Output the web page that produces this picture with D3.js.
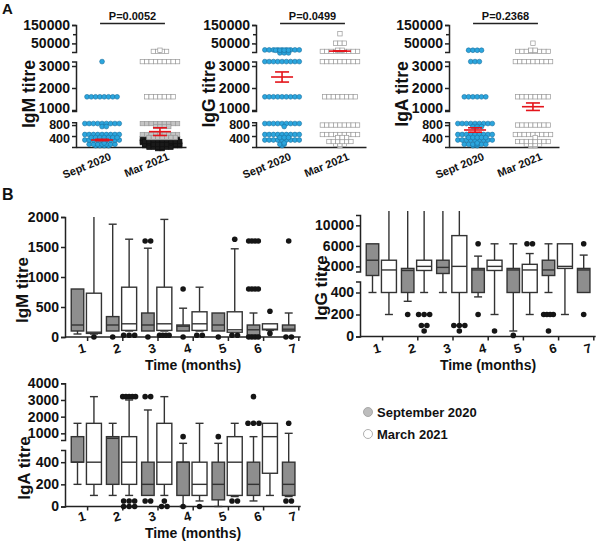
<!DOCTYPE html>
<html><head><meta charset="utf-8">
<script src="https://cdn.jsdelivr.net/npm/d3@7"></script>
<style>
body{margin:0;background:#fff}
text{font-family:"Liberation Sans",Arial,Helvetica,sans-serif;font-weight:bold;fill:#111}
</style></head><body>
<svg id="c" width="600" height="542"></svg>
<script>
// ---------- Panel A data (number of subjects at each titre) ----------
const titres = [50,100,200,400,800,1600,3200,6400,12800,25600,51200,102400];
const groupsA = ["Sept 2020","Mar 2021"];
const igmSept = [4,7,10,16,11,8,1,0,0,0,0,0];
const igmMar  = [20,24,22,16,13,7,9,4,1,0,0,0];
const iggSept = [1,2,10,12,10,9,9,12,4,0,0,0];
const iggMar  = [1,3,6,12,9,8,9,9,2,0,3,1];
const igaSept = [2,6,10,14,12,6,3,0,4,0,0,0];
const igaMar  = [2,4,8,10,8,8,9,8,2,0,1,0];
// mean, SEM
const igmStats = [[255,25],[560,140]];
const iggStats = [[2500,230],[8000,300]];
const igaStats = [[620,80],[1150,170]];
const pValues = ["P=0.0052","P=0.0499","P=0.2368"];
const tickLowA = [400,800];
const tickMidA = [1000,2000,3000];
const tickTopA = [50000,150000];
const minorTopA = [100000];

// ---------- Panel B data: [low whisker, Q1, median, Q3, high whisker] ----------
const months = [1,2,3,4,5,6,7];
const igmSeptBox = [[50,100,200,800,800],[100,100,200,340,1880],[100,100,200,400,1480],[100,100,180,200,480],[100,100,200,400,400],[20,30,120,200,400],[100,100,130,200,400]];
const igmMarBox  = [[50,60,80,730,2000],[100,110,220,830,1630],[100,110,220,830,1960],[100,110,220,420,830],[80,80,120,420,1470],[110,120,130,220,220]];
const igmSeptOut = [[2,0,1],[3,1600,2],[3,0,1],[4,800,1],[4,0,1],[5,0,1],[6,1600,4],[6,800,4],[6,0,4],[7,1600,1],[7,0,2]];
const igmMarOut  = [[1,0,1],[2,30,3],[3,30,4],[4,30,2],[5,1630,1],[5,30,2],[6,430,1],[6,60,1]];
const iggSeptBox = [[400,800,3200,6400,6400],[320,400,1200,1600,12800],[400,900,1800,3200,12800],[360,400,1300,1600,4000],[50,400,1300,1600,6400],[400,800,1300,3200,6400],[400,400,1300,1600,4200]];
const iggMarBox  = [[200,400,1300,3200,12800],[400,1200,2000,3200,12800],[100,400,2000,8000,12800],[200,1200,2000,3200,6400],[200,400,1300,2400,4500],[200,1600,2000,6400,6400]];
const iggSeptOut = [[2,200,1],[4,6400,1],[4,200,1],[5,10,1],[6,200,4],[6,50,1],[7,6400,1],[7,200,1]];
const iggMarOut  = [[2,200,3],[2,100,2],[2,50,1],[3,100,3],[3,50,1],[4,50,1],[5,6400,2]];
const igaSeptBox = [[200,400,400,800,1600],[100,200,700,800,1600],[100,100,200,400,2400],[0,100,400,400,570],[0,60,200,400,570],[50,100,200,400,800],[90,100,200,400,1000]];
const igaMarBox  = [[100,200,400,1600,3200],[100,200,400,800,3000],[100,200,400,1600,3200],[50,100,200,400,1600],[90,100,400,800,1600],[100,300,800,1600,1600]];
const igaSeptOut = [[3,3200,2],[3,50,2],[4,800,1],[4,0,1],[5,800,1],[6,1600,3],[6,3200,1],[7,1600,1],[7,50,2]];
const igaMarOut  = [[2,3200,5],[2,50,3],[2,0,3],[3,50,1],[3,0,2],[4,0,1],[5,50,2]];
const tickIgM = [0,500,1000,1500,2000];
const tickIgGLow = [0,200,400], tickIgGHigh = [2000,6000,10000];
const tickIgALow = [0,200,400], tickIgAHigh = [1000,2000,3000,4000];
const legendLabels = ["September 2020","March 2021"];

// ---------- drawing ----------
const svg = d3.select("#c");
const BLUE = "#2ba6de", BLUE_S = "#1a6f9e", RED = "#e4141b", GREY = "#8e8e8e", DARK = "#222";
const fmt = d3.format("d");

function styleAxis(g, fs) {
  g.selectAll("path.domain").attr("stroke", DARK).attr("stroke-width", 1.5);
  g.selectAll(".tick line").attr("stroke", DARK).attr("stroke-width", 1.5);
  g.selectAll(".tick text").attr("font-size", fs).attr("fill", "#111");
}

svg.append("text").text("A").attr("x", 2).attr("y", 14).attr("font-size", 15);
svg.append("text").text("B").attr("x", 2).attr("y", 200).attr("font-size", 16);

// Panel A
const yA = d3.scaleLinear().domain([0,900,950,3200,3250,150000]).range([147,122.3,111.1,61.6,52,25]);
const segA = [[0,900],[950,3200],[3250,150000]];
const segTicksA = [tickLowA, tickMidA, tickTopA];
const panelsA = [
  {title:"IgM titre", ax:76, counts:[igmSept, igmMar], stats:igmStats, p:pValues[0]},
  {title:"IgG titre", ax:256, counts:[iggSept, iggMar], stats:iggStats, p:pValues[1]},
  {title:"IgA titre", ax:449, counts:[igaSept, igaMar], stats:igaStats, p:pValues[2]}
];

function swarm(counts, cx, sp, maxPer) {
  const pts = [];
  titres.forEach((t, i) => {
    const n = counts[i]; if (!n) return;
    const rows = Math.ceil(n / maxPer); let left = n;
    for (let k = 0; k < rows; k++) {
      const m = Math.min(maxPer, left); left -= m;
      const dy = (k - (rows - 1) / 2) * 3;
      const sh = (k % 2) * sp / 2;
      for (let j = 0; j < m; j++) pts.push({t, n, x: cx + (j - (m - 1) / 2) * sp + sh, dy});
    }
  });
  return pts;
}

panelsA.forEach(P => {
  const g = svg.append("g");
  segA.forEach((seg, i) => {
    const s = d3.scaleLinear().domain(seg).range(seg.map(yA));
    const a = g.append("g").attr("transform", `translate(${P.ax},0)`)
      .call(d3.axisLeft(s).tickValues(segTicksA[i]).tickFormat(fmt).tickSize(4).tickSizeOuter(4).tickPadding(2));
    styleAxis(a, 14);
    if (i === 0) {
      // tight lower segment: smaller labels, nudged apart a little
      a.selectAll(".tick text").attr("font-size", 12.5)
        .attr("y", d => d === tickLowA[1] ? -0.5 : 2.5);
    }
    if (i === 1) {
      a.selectAll(".tick text").filter(d => d === tickMidA[0]).attr("y", -2);
    }
  });
  const mi = g.append("g").attr("transform", `translate(${P.ax},0)`)
    .call(d3.axisLeft(yA).tickValues(minorTopA).tickSize(3).tickFormat(""));
  mi.select("path.domain").remove(); styleAxis(mi, 14);

  const xA = d3.scalePoint().domain(groupsA).range([P.ax, P.ax + 110]).padding(0.45);
  const xa = g.append("g").attr("transform", `translate(0,${yA(0)})`)
    .call(d3.axisBottom(xA).tickSize(0).tickSizeOuter(0).tickFormat(""));
  styleAxis(xa, 11);
  groupsA.forEach(gn => {
    const x = xA(gn) + 10, y = 159.5;
    g.append("text").text(gn).attr("x", x).attr("y", y).attr("font-size", 11)
      .attr("text-anchor", "end").attr("transform", `rotate(-22,${x},${y})`);
  });
  g.append("text").text(P.title).attr("font-size", 17.5).attr("text-anchor", "middle")
    .attr("transform", `translate(${P.ax - 47},${94}) rotate(-90)`).attr("dy", "0.35em");

  // points
  const sept = swarm(P.counts[0], xA(groupsA[0]), 4.3, 9);
  g.selectAll(null).data(sept).join("circle")
    .attr("cx", d => d.x).attr("cy", d => yA(d.t) + d.dy).attr("r", 2.4)
    .attr("fill", BLUE).attr("stroke", BLUE_S).attr("stroke-width", 0.6);
  const mar = swarm(P.counts[1], xA(groupsA[1]), 4.4, 9);
  g.selectAll(null).data(mar).join("rect")
    .attr("x", d => d.x - 2.2).attr("y", d => yA(d.t) + d.dy - 2.2).attr("width", 4.4).attr("height", 4.4)
    .attr("fill", d => d.n > 18 ? "#1a1a1a" : d.n > 12 ? "#c4c4c4" : "#fff")
    .attr("stroke", d => d.n > 18 ? "#111" : "#999").attr("stroke-width", 0.7);

  // mean +/- SEM
  groupsA.forEach((gn, i) => {
    const [m, se] = P.stats[i], cx = xA(gn);
    const r = g.append("g").attr("stroke", RED).attr("stroke-width", 1.6);
    r.append("line").attr("x1", cx).attr("x2", cx).attr("y1", yA(m + se)).attr("y2", yA(m - se));
    r.append("line").attr("x1", cx - 11).attr("x2", cx + 11).attr("y1", yA(m)).attr("y2", yA(m));
    [m + se, m - se].forEach(v => r.append("line").attr("x1", cx - 7).attr("x2", cx + 7).attr("y1", yA(v)).attr("y2", yA(v)));
  });

  // p-value bar
  const x1 = xA(groupsA[0]) - 2, x2 = xA(groupsA[1]) + 5;
  g.append("line").attr("x1", x1).attr("x2", x2).attr("y1", 23.5).attr("y2", 23.5).attr("stroke", DARK).attr("stroke-width", 1.5);
  g.append("text").text(P.p).attr("x", (x1 + x2) / 2).attr("y", 19.5).attr("font-size", 11).attr("text-anchor", "middle");
});

// Panel B
const panelsB = [
  {title:"IgM titre", ax:65, tX:43, base:337, tY:290, labY:353, xtY:370,
   y:d3.scaleLinear().domain([0,2000]).range([337,217]), segs:[[0,2000]], ticks:[tickIgM],
   box:[igmSeptBox, igmMarBox], out:[igmSeptOut, igmMarOut], top:2000},
  {title:"IgG titre", ax:360, tX:39, base:336.5, tY:288, labY:353, xtY:370,
   y:d3.scaleLinear().domain([0,500,1000,12800]).range([336.5,281.5,271.5,211]), segs:[[0,500],[1000,12000]], ticks:[tickIgGLow, tickIgGHigh],
   box:[iggSeptBox, iggMarBox], out:[iggSeptOut, iggMarOut], top:12000},
  {title:"IgA titre", ax:65, tX:41, base:506.5, tY:468, labY:521, xtY:538,
   y:d3.scaleLinear().domain([0,510,600,4000]).range([506.5,450,440,383.3]), segs:[[0,510],[600,4000]], ticks:[tickIgALow, tickIgAHigh],
   box:[igaSeptBox, igaMarBox], out:[igaSeptOut, igaMarOut], top:4000}
];

panelsB.forEach(P => {
  const g = svg.append("g"), y = P.y;
  P.segs.forEach((seg, i) => {
    const s = d3.scaleLinear().domain(seg).range(seg.map(y));
    const a = g.append("g").attr("transform", `translate(${P.ax},0)`)
      .call(d3.axisLeft(s).tickValues(P.ticks[i]).tickFormat(fmt).tickSize(4).tickSizeOuter(4).tickPadding(2));
    styleAxis(a, 14);
  });
  const xb = d3.scaleBand().domain(months).range([P.ax + 5, P.ax + 5 + 7 * 35.2]);
  const bw = xb.bandwidth();
  const cxs = [m => xb(m) + bw * 0.213, m => xb(m) + bw * 0.68];
  const widths = [12.5, 15];
  const fills = [GREY, "#fff"];

  const xa = g.append("g").attr("transform", `translate(0,${P.base})`)
    .call(d3.axisBottom(xb).tickSize(4).tickSizeOuter(0).tickFormat(""));
  xa.select("path.domain").remove();
  styleAxis(xa, 13);
  g.append("line").attr("x1", P.ax).attr("x2", cxs[0](7) + 12).attr("y1", P.base).attr("y2", P.base)
    .attr("stroke", DARK).attr("stroke-width", 1.5);
  months.forEach(m => {
    const x = xb(m) + bw / 2 - 6, yy = P.labY;
    g.append("text").text(m).attr("x", x).attr("y", yy).attr("font-size", 13).attr("text-anchor", "middle")
      .attr("transform", `rotate(-15,${x},${yy - 5})`);
  });
  g.append("text").text("Time (months)").attr("x", P.ax + 128).attr("y", P.xtY).attr("font-size", 14).attr("text-anchor", "middle");
  g.append("text").text(P.title).attr("font-size", 17).attr("text-anchor", "middle")
    .attr("transform", `translate(${P.ax - P.tX},${P.tY}) rotate(-90)`).attr("dy", "0.35em");

  [0, 1].forEach(s => {
    P.box[s].forEach((st, i) => {
      const m = months[i], cx = cxs[s](m), w = widths[s];
      const [lo, q1, med, q3, hi] = st;
      const bg = g.append("g").attr("stroke", "#333").attr("stroke-width", 1.4);
      if (hi > q3) {
        bg.append("line").attr("x1", cx).attr("x2", cx).attr("y1", y(q3)).attr("y2", y(hi));
        if (hi < P.top) bg.append("line").attr("x1", cx - 4).attr("x2", cx + 4).attr("y1", y(hi)).attr("y2", y(hi));
      }
      if (lo < q1) {
        bg.append("line").attr("x1", cx).attr("x2", cx).attr("y1", y(q1)).attr("y2", y(lo));
        bg.append("line").attr("x1", cx - 4).attr("x2", cx + 4).attr("y1", y(lo)).attr("y2", y(lo));
      }
      bg.append("rect").attr("x", cx - w / 2).attr("width", w).attr("y", y(q3)).attr("height", Math.max(0.5, y(q1) - y(q3)))
        .attr("fill", fills[s]);
      bg.append("line").attr("x1", cx - w / 2).attr("x2", cx + w / 2).attr("y1", y(med)).attr("y2", y(med));
    });
    P.out[s].forEach(([m, v, n]) => {
      const cx = cxs[s](m), sp = n >= 4 ? 3.2 : 5.5;
      d3.range(n).forEach(j => {
        g.append("circle").attr("cx", cx + (j - (n - 1) / 2) * sp).attr("cy", y(v)).attr("r", 2.8).attr("fill", "#151515");
      });
    });
  });
});

// Legend
const lg = svg.append("g");
legendLabels.forEach((t, i) => {
  lg.append("circle").attr("cx", 368).attr("cy", 412 + i * 22).attr("r", 4.5)
    .attr("fill", i === 0 ? "#bdbdbd" : "#fff").attr("stroke", "#9a9a9a").attr("stroke-width", 0.8);
  lg.append("text").text(t).attr("x", 377).attr("y", 417 + i * 22).attr("font-size", 13);
});
</script>
</body></html>
